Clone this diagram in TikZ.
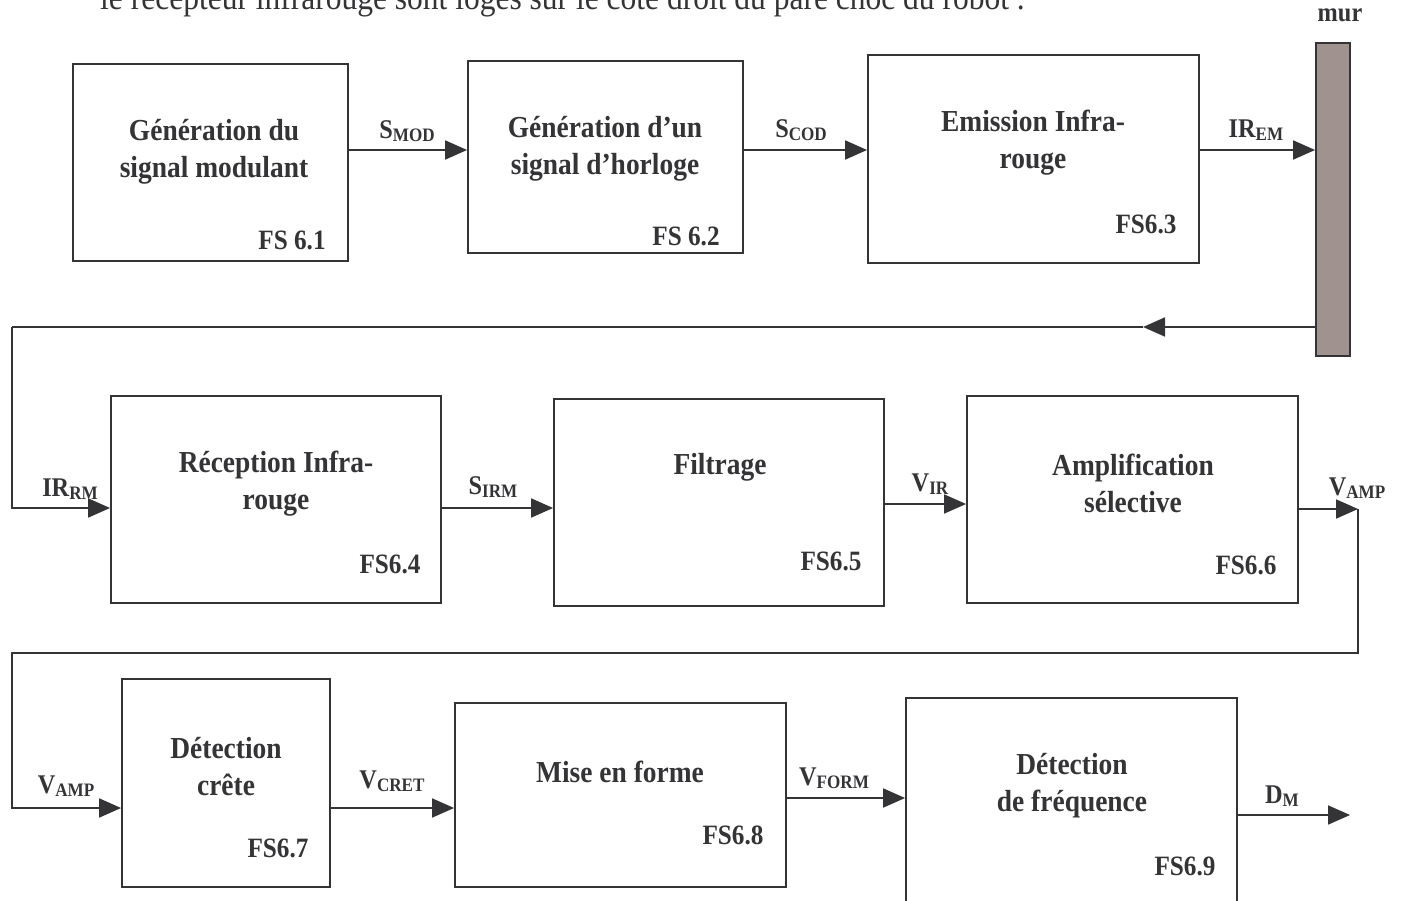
\documentclass[tikz,border=0pt]{standalone}
\usepackage{fontspec}
\setmainfont{Liberation Serif}
% narrow, tall serif face used for every label
\newfontfamily\narrowserif[FakeStretch=0.9]{Liberation Serif}
\usetikzlibrary{arrows.meta}
\definecolor{ink}{RGB}{52,52,55}
\definecolor{wallfill}{RGB}{160,147,143}
\newcommand{\sig}[2]{#1\raisebox{-2.5pt}{\fontsize{19}{19}\selectfont #2}}
\begin{document}
\begin{tikzpicture}[x=1pt,y=-1pt,
  fsbox/.style={draw=ink,line width=1.8pt,fill=white,inner sep=0pt},
  title/.style={font=\narrowserif\bfseries\fontsize{30.5}{37}\selectfont,text=ink,align=center,inner sep=0pt},
  fstag/.style={font=\narrowserif\bfseries\fontsize{28}{28}\selectfont,text=ink,inner sep=0pt},
  siglab/.style={font=\narrowserif\bfseries\fontsize{27}{27}\selectfont,text=ink,inner sep=0pt},
  link/.style={draw=ink,line width=1.8pt},
  flow/.style={link,-{Triangle[length=22pt,width=19pt]}}]
\useasboundingbox (0,0) rectangle (1402,901);

% running text above the chain
\node[anchor=base west,font=\narrowserif\fontsize{35}{35}\selectfont,text=ink,inner sep=0pt] (txt) at (100,10)
  {le récepteur infrarouge sont logés sur le côté droit du pare choc du robot .};

% first row: emission chain
\node[fsbox,minimum width=275,minimum height=197] (B1) at (210.5,162.5) {};
\node[fsbox,minimum width=275,minimum height=192] (B2) at (605.5,157) {};
\node[fsbox,minimum width=331,minimum height=208] (B3) at (1033.5,159) {};
\node[draw=ink,line width=1.8pt,fill=wallfill,minimum width=34,minimum height=313,inner sep=0pt] (W) at (1333,199.5) {};
\node[siglab] (murlab) at (1340,15) {mur};

\node[title] (T1) at (214,152) {Génération du\\signal modulant};
\node[title] (T2) at (605,149) {Génération d’un\\signal d’horloge};
\node[title] (T3) at (1033,143) {Emission Infra-\\rouge};
\node[fstag] (F1) at (292,240) {FS 6.1};
\node[fstag] (F2) at (686,236) {FS 6.2};
\node[fstag] (F3) at (1146,224) {FS6.3};

% second row: reception chain
\node[fsbox,minimum width=330,minimum height=207] (B4) at (276,499.5) {};
\node[fsbox,minimum width=330,minimum height=207] (B5) at (719,502.5) {};
\node[fsbox,minimum width=331,minimum height=207] (B6) at (1132.5,499.5) {};
\node[title] (T4) at (276,484) {Réception Infra-\\rouge};
\node[title] (T5) at (720,467) {Filtrage};
\node[title] (T6) at (1133,483) {Amplification\\sélective};
\node[fstag] (F4) at (390,564) {FS6.4};
\node[fstag] (F5) at (831,561) {FS6.5};
\node[fstag] (F6) at (1246,565) {FS6.6};

% third row: detection chain
\node[fsbox,minimum width=208,minimum height=208] (B7) at (226,783) {};
\node[fsbox,minimum width=331,minimum height=184] (B8) at (620.5,795) {};
\node[fsbox,minimum width=331,minimum height=212] (B9) at (1071.5,804) {};
\node[title] (T7) at (226,767) {Détection\\crête};
\node[title] (T8) at (620,772) {Mise en forme};
\node[title] (T9) at (1072,786) {Détection\\de fréquence};
\node[fstag] (F7) at (278,848) {FS6.7};
\node[fstag] (F8) at (733,835) {FS6.8};
\node[fstag] (F9) at (1185,866) {FS6.9};

% signal rows and turning points
\coordinate (r1) at (0,150);
\coordinate (rb) at (0,327);
\coordinate (r2) at (0,508);
\coordinate (r2b) at (0,504);
\coordinate (r2c) at (0,509);
\coordinate (r3) at (0,808);
\coordinate (r3b) at (0,798);
\coordinate (r3c) at (0,815);
\coordinate (backtip) at (1143,327);
\coordinate (lc1) at (12,327);
\coordinate (lc2) at (12,508);
\coordinate (amptip) at (1358,509);
\coordinate (rc1) at (1358,653);
\coordinate (lc3) at (12,653);
\coordinate (lc4) at (12,808);
\coordinate (dmend) at (1350,815);

% connectors
\draw[flow] (B1.east |- r1) -- (B2.west |- r1);
\draw[flow] (B2.east |- r1) -- (B3.west |- r1);
\draw[flow] (B3.east |- r1) -- (W.west |- r1);
\draw[flow] (W.west |- rb) -- (backtip);
\draw[link] (backtip) -- (lc1);
\draw[flow] (lc1) -- (lc2) -- (B4.west |- r2);
\draw[flow] (B4.east |- r2) -- (B5.west |- r2);
\draw[flow] (B5.east |- r2b) -- (B6.west |- r2b);
\draw[flow] (B6.east |- r2c) -- (amptip);
\draw[flow] (amptip) -- (rc1) -- (lc3) -- (lc4) -- (B7.west |- r3);
\draw[flow] (B7.east |- r3) -- (B8.west |- r3);
\draw[flow] (B8.east |- r3b) -- (B9.west |- r3b);
\draw[flow] (B9.east |- r3c) -- (dmend);

% signal names
\node[siglab] (lS1) at (407,131) {\sig{S}{MOD}};
\node[siglab] (lS2) at (801,130) {\sig{S}{COD}};
\node[siglab] (lS3) at (1256,130) {\sig{IR}{EM}};
\node[siglab] (lS4) at (70,489) {\sig{IR}{RM}};
\node[siglab] (lS5) at (493,487) {\sig{S}{IRM}};
\node[siglab] (lS6) at (930,484) {\sig{V}{IR}};
\node[siglab] (lS7) at (1357,488) {\sig{V}{AMP}};
\node[siglab] (lS8) at (66,786) {\sig{V}{AMP}};
\node[siglab] (lS9) at (392,781) {\sig{V}{CRET}};
\node[siglab] (lS10) at (834,778) {\sig{V}{FORM}};
\node[siglab] (lS11) at (1282,796) {\sig{D}{M}};
\end{tikzpicture}
\end{document}
